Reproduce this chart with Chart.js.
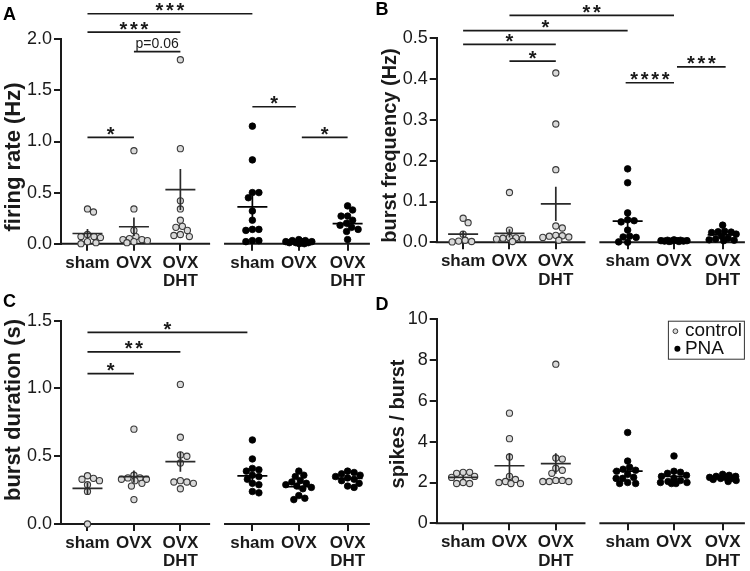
<!DOCTYPE html>
<html>
<head>
<meta charset="utf-8">
<script src="https://cdn.jsdelivr.net/npm/chart.js@4.4.1/dist/chart.umd.min.js"></script>
<style>
  body { margin: 0; background: #fff; }
  #wrap { position: relative; width: 750px; height: 571px; overflow: hidden; background: #fff; }
  canvas { position: absolute; }
</style>
</head>
<body>
<div id="wrap">
  <canvas id="cA" width="375" height="292" style="left:0;top:0"></canvas>
  <canvas id="cB" width="375" height="292" style="left:375px;top:0"></canvas>
  <canvas id="cC" width="375" height="286" style="left:0;top:285px"></canvas>
  <canvas id="cD" width="375" height="286" style="left:375px;top:285px"></canvas>
</div>
<script>
// groups: control sham / OVX / OVX+DHT, then PNA sham / OVX / OVX+DHT
const groupLabels = ['sham', 'OVX', ['OVX', 'DHT'], 'sham', 'OVX', ['OVX', 'DHT']];
const groupX = [1, 2, 3, 4.55, 5.55, 6.6];

// A - firing rate (Hz)
const rateValues = [
  [0.34, 0.31, 0.09, 0.07, 0.07, 0.06, 0.02, 0.01, 0.0],
  [0.91, 0.34, 0.13, 0.07, 0.05, 0.04, 0.04, 0.03, 0.02, 0.01],
  [1.80, 0.93, 0.42, 0.34, 0.23, 0.17, 0.16, 0.13, 0.09, 0.08, 0.07],
  [1.15, 0.82, 0.50, 0.50, 0.45, 0.32, 0.23, 0.14, 0.14, 0.13, 0.03, 0.03, 0.02],
  [0.04, 0.03, 0.03, 0.02, 0.02, 0.02, 0.01, 0.01, 0.01, 0.0, 0.0],
  [0.37, 0.33, 0.27, 0.27, 0.23, 0.2, 0.18, 0.16, 0.14, 0.12, 0.04]
];
const rateMean = [0.10, 0.166, 0.53, 0.36, 0.02, 0.196];
const rateSem = [0.045, 0.09, 0.2, 0.11, 0.005, 0.03];
const rateSig = [
  { a: 0, b: 3, y: 2.25, t: '***' },
  { a: 0, b: 2, y: 2.07, t: '***' },
  { a: 1, b: 2, y: 1.88, t: 'p=0.06' },
  { a: 0, b: 1, y: 1.04, t: '*' },
  { a: 3, b: 4, y: 1.34, t: '*', trimR: 3 },
  { a: 4, b: 5, y: 1.04, t: '*', trimL: 3 }
];

// B - burst frequency (Hz)
const freqValues = [
  [0.059, 0.048, 0.02, 0.005, 0.003, 0.002, 0.001],
  [0.122, 0.03, 0.012, 0.011, 0.01, 0.009, 0.008, 0.002],
  [0.415, 0.29, 0.178, 0.04, 0.035, 0.017, 0.016, 0.015, 0.013, 0.012, 0.005],
  [0.18, 0.146, 0.072, 0.055, 0.053, 0.05, 0.03, 0.015, 0.013, 0.012, 0.001, 0.0],
  [0.006, 0.005, 0.005, 0.004, 0.004, 0.004, 0.003, 0.003, 0.003, 0.002, 0.002],
  [0.042, 0.027, 0.026, 0.025, 0.024, 0.02, 0.015, 0.01, 0.008, 0.006, 0.005, 0.004]
];
const freqMean = [0.02, 0.022, 0.094, 0.052, 0.004, 0.018];
const freqSem = [0.008, 0.01, 0.042, 0.018, 0.001, 0.004];
const freqSig = [
  { a: 1, b: 4, y: 0.556, t: '**' },
  { a: 0, b: 3, y: 0.519, t: '*' },
  { a: 0, b: 2, y: 0.485, t: '*' },
  { a: 1, b: 2, y: 0.444, t: '*' },
  { a: 3, b: 4, y: 0.391, t: '****', trimL: -2 },
  { a: 4, b: 5, y: 0.43, t: '***', trimL: 3, trimR: -3 }
];

// C - burst duration (s)
const durValues = [
  [0.356, 0.337, 0.33, 0.32, 0.29, 0.24, 0.0],
  [0.70, 0.36, 0.34, 0.34, 0.33, 0.33, 0.32, 0.30, 0.28, 0.18],
  [1.03, 0.64, 0.51, 0.50, 0.45, 0.32, 0.31, 0.31, 0.30, 0.26],
  [0.62, 0.48, 0.41, 0.40, 0.39, 0.36, 0.35, 0.33, 0.30, 0.29, 0.24, 0.23],
  [0.39, 0.36, 0.35, 0.32, 0.31, 0.30, 0.29, 0.28, 0.27, 0.26, 0.21, 0.19, 0.18],
  [0.39, 0.38, 0.37, 0.36, 0.35, 0.34, 0.33, 0.32, 0.30, 0.28, 0.27]
];
const durMean = [0.263, 0.35, 0.46, 0.355, 0.275, 0.337];
const durSem = [0.043, 0.045, 0.074, 0.03, 0.02, 0.013];
const durSig = [
  { a: 0, b: 3, y: 1.414, t: '*', trimR: 5 },
  { a: 0, b: 2, y: 1.27, t: '**' },
  { a: 0, b: 1, y: 1.11, t: '*' }
];

// D - spikes / burst
const spikeValues = [
  [2.5, 2.5, 2.45, 2.3, 2.25, 2.0, 1.95, 1.95],
  [5.4, 4.15, 3.25, 2.3, 2.15, 2.05, 2.0, 1.95, 1.95],
  [7.8, 3.2, 3.15, 2.7, 2.6, 2.45, 2.1, 2.1, 2.05, 2.05, 2.05],
  [4.45, 3.05, 2.75, 2.65, 2.6, 2.55, 2.4, 2.25, 2.2, 2.2, 2.0, 1.95, 1.95],
  [3.3, 2.55, 2.5, 2.45, 2.35, 2.3, 2.2, 2.1, 2.05, 2.0, 2.0, 1.95, 1.95],
  [2.4, 2.35, 2.3, 2.3, 2.25, 2.25, 2.2, 2.2, 2.15, 2.1, 2.05]
];
const spikeMean = [2.25, 2.82, 2.93, 2.56, 2.3, 2.24];
const spikeSem = [0.08, 0.62, 0.5, 0.2, 0.1, 0.05];

const seriesNames = ['control', 'PNA'];

const FONT = "'Liberation Sans', Arial, sans-serif";
const INK = '#1a1a1a';
const CTRL_FILL = '#d9d9d9';
const CTRL_EDGE = '#3a3a3a';
const X_MIN = 0.43, X_MAX = 7.08;
const X_AXIS_H = 44;

// scatter layout: spread equal-ish values sideways, but keep the column narrow
function swarm(values, center, pxX, pxY, diam, maxOff) {
  const placed = [];
  const out = new Array(values.length);
  const order = values.map((v, i) => i).sort((a, b) => values[b] - values[a]);
  const cands = [];
  for (let k = 0; k <= maxOff * 4; k++) {
    const o = (k % 2 ? 1 : -1) * Math.ceil(k / 2) * 0.5;
    if (Math.abs(o) <= maxOff) cands.push(o);
  }
  order.forEach(i => {
    const py = values[i] * pxY;
    let off = null, bestO = 0, bestD = -1;
    for (const o of cands) {
      let md = Infinity;
      placed.forEach(p => { md = Math.min(md, Math.hypot(o - p.o, py - p.py)); });
      if (md >= diam) { off = o; break; }
      if (md > bestD + 0.01) { bestD = md; bestO = o; }
    }
    if (off === null) off = bestO;
    placed.push({ o: off, py: py });
    out[i] = { x: center + off / pxX, y: values[i] };
  });
  return out;
}

function drawStars(ctx, text, cx, lineY) {
  ctx.save();
  ctx.fillStyle = INK;
  if (/^\*+$/.test(text)) {
    ctx.font = 'bold 20px ' + FONT;
    ctx.textAlign = 'center';
    ctx.textBaseline = 'alphabetic';
    const m = ctx.measureText('*');
    const a = m.actualBoundingBoxAscent, d = m.actualBoundingBoxDescent;
    const base = lineY - 6.5 - (d - a) / 2;
    const step = 10.5;
    const n = text.length;
    for (let i = 0; i < n; i++) {
      ctx.fillText('*', cx + (i - (n - 1) / 2) * step, base);
    }
  } else {
    ctx.font = '14px ' + FONT;
    ctx.textAlign = 'center';
    ctx.textBaseline = 'alphabetic';
    ctx.fillText(text, cx, lineY - 3.5);
  }
  ctx.restore();
}

function makePanel(id, p) {
  const plotW = p.area.right - p.area.left;
  const plotH = p.area.bottom - p.area.top;
  const pxX = plotW / (X_MAX - X_MIN);
  const pxY = plotH / (p.yMax - p.yMin);

  const ctrlPts = [], pnaPts = [];
  p.values.forEach((vals, g) => {
    const pts = swarm(vals, groupX[g], pxX, pxY, 6.4, 13.5);
    (g < 3 ? ctrlPts : pnaPts).push(...pts);
  });

  const deco = {
    id: 'deco' + id,
    beforeDatasetsDraw(chart) {
      const { ctx, chartArea, scales } = chart;
      ctx.save();
      ctx.strokeStyle = INK;
      ctx.lineWidth = 2;
      [[X_MIN, 3.64], [3.94, X_MAX]].forEach(seg => {
        ctx.beginPath();
        ctx.moveTo(scales.x.getPixelForValue(seg[0]) - (seg[0] === X_MIN ? 1 : 0), chartArea.bottom);
        ctx.lineTo(scales.x.getPixelForValue(seg[1]), chartArea.bottom);
        ctx.stroke();
      });
      ctx.restore();
    },
    afterDatasetsDraw(chart) {
      const { ctx, scales } = chart;
      const xs = scales.x, ys = scales.y;
      ctx.save();
      ctx.lineWidth = 1.7;
      p.mean.forEach((m, g) => {
        const cx = xs.getPixelForValue(groupX[g]);
        const my = ys.getPixelForValue(m);
        ctx.strokeStyle = g < 3 ? '#2a2a2a' : '#000';
        ctx.beginPath();
        ctx.moveTo(cx - 15, my);
        ctx.lineTo(cx + 15, my);
        ctx.moveTo(cx, ys.getPixelForValue(m - p.sem[g]));
        ctx.lineTo(cx, ys.getPixelForValue(m + p.sem[g]));
        ctx.stroke();
      });
      ctx.restore();
    },
    afterDraw(chart) {
      const { ctx, scales, chartArea } = chart;
      const xs = scales.x, ys = scales.y;
      ctx.save();
      // significance bars
      ctx.strokeStyle = INK;
      ctx.lineWidth = 1.7;
      (p.sig || []).forEach(s => {
        const x1 = xs.getPixelForValue(groupX[s.a]) + (s.trimL || 0);
        const x2 = xs.getPixelForValue(groupX[s.b]) - (s.trimR || 0);
        const y = ys.getPixelForValue(s.y);
        ctx.beginPath();
        ctx.moveTo(x1, y);
        ctx.lineTo(x2, y);
        ctx.stroke();
        drawStars(ctx, s.t, (x1 + x2) / 2, y);
      });
      // panel letter
      ctx.fillStyle = '#000';
      ctx.font = 'bold 18px ' + FONT;
      ctx.textAlign = 'left';
      ctx.textBaseline = 'alphabetic';
      ctx.fillText(p.letter, p.letterPos[0], p.letterPos[1]);
      // y title
      ctx.save();
      ctx.translate(p.titlePos[0], p.titlePos[1]);
      ctx.rotate(-Math.PI / 2);
      ctx.font = 'bold ' + p.titleSize + 'px ' + FONT;
      ctx.fillStyle = INK;
      ctx.textAlign = 'center';
      ctx.textBaseline = 'middle';
      ctx.fillText(p.title, 0, 0);
      ctx.restore();
      // legend box
      if (p.legend) {
        const bx = chartArea.right - 77, by = chartArea.top + 1.4;
        ctx.strokeStyle = '#333';
        ctx.lineWidth = 1;
        ctx.strokeRect(bx + 0.5, by + 0.5, 76, 38);
        ctx.font = '19px ' + FONT;
        ctx.textBaseline = 'middle';
        ctx.textAlign = 'left';
        ctx.beginPath();
        ctx.arc(bx + 7.5, by + 10.5, 2.4, 0, Math.PI * 2);
        ctx.fillStyle = CTRL_FILL;
        ctx.fill();
        ctx.strokeStyle = CTRL_EDGE;
        ctx.stroke();
        ctx.beginPath();
        ctx.arc(bx + 9.5, by + 28, 3, 0, Math.PI * 2);
        ctx.fillStyle = '#000';
        ctx.fill();
        ctx.fillStyle = '#111';
        ctx.fillText(seriesNames[0], bx + 17, by + 10.5);
        ctx.fillText(seriesNames[1], bx + 17, by + 28.5);
      }
      ctx.restore();
    }
  };

  const el = document.getElementById(id);
  return new Chart(el.getContext('2d'), {
    type: 'scatter',
    data: {
      datasets: [
        { label: seriesNames[0], data: ctrlPts, backgroundColor: CTRL_FILL, borderColor: CTRL_EDGE,
          borderWidth: 1.1, pointRadius: 3.1, clip: false },
        { label: seriesNames[1], data: pnaPts, backgroundColor: '#000', borderColor: '#000',
          borderWidth: 0.8, pointRadius: 3.3, clip: false }
      ]
    },
    options: {
      responsive: false,
      animation: false,
      events: [],
      layout: {
        padding: {
          left: 0,
          top: p.area.top,
          right: el.width - p.area.right,
          bottom: el.height - p.area.bottom - X_AXIS_H
        }
      },
      plugins: { legend: { display: false }, tooltip: { enabled: false } },
      scales: {
        x: {
          type: 'linear',
          min: X_MIN,
          max: X_MAX,
          afterFit: s => { s.height = X_AXIS_H; },
          afterBuildTicks: s => { s.ticks = groupX.map(v => ({ value: v })); },
          ticks: {
            autoSkip: false, maxRotation: 0, minRotation: 0, padding: 3,
            color: INK,
            font: { family: FONT, size: 17, weight: 'bold', lineHeight: 1.08 },
            callback: (v, i) => groupLabels[i]
          },
          grid: { drawOnChartArea: false, drawTicks: true, tickLength: 7, color: INK, lineWidth: 2 },
          border: { display: false }
        },
        y: {
          min: p.yMin,
          max: p.yMax,
          afterFit: s => { s.width = p.area.left; },
          ticks: {
            stepSize: p.step, padding: 2, color: INK,
            font: { family: FONT, size: 18 },
            callback: v => v.toFixed(p.dec)
          },
          grid: { drawOnChartArea: false, drawTicks: true, tickLength: 7, color: INK, lineWidth: 2 },
          border: { display: true, color: INK, width: 2 }
        }
      }
    },
    plugins: [deco]
  });
}

makePanel('cA', {
  letter: 'A', letterPos: [3, 20],
  title: 'firing rate (Hz)', titleSize: 22, titlePos: [13.5, 157],
  area: { left: 61, right: 370, top: 39.3, bottom: 243.7 },
  yMin: 0, yMax: 2, step: 0.5, dec: 1,
  values: rateValues, mean: rateMean, sem: rateSem, sig: rateSig
});
makePanel('cB', {
  letter: 'B', letterPos: [0.5, 15],
  title: 'burst frequency (Hz)', titleSize: 20, titlePos: [15, 145.5],
  area: { left: 61.7, right: 370, top: 38.3, bottom: 242.3 },
  yMin: 0, yMax: 0.5, step: 0.1, dec: 1,
  values: freqValues, mean: freqMean, sem: freqSem, sig: freqSig
});
makePanel('cC', {
  letter: 'C', letterPos: [3, 21.7],
  title: 'burst duration (s)', titleSize: 22, titlePos: [14, 125],
  area: { left: 61, right: 370, top: 35.7, bottom: 239 },
  yMin: 0, yMax: 1.5, step: 0.5, dec: 1,
  values: durValues, mean: durMean, sem: durSem, sig: durSig
});
makePanel('cD', {
  letter: 'D', letterPos: [0.5, 25],
  title: 'spikes / burst', titleSize: 20, titlePos: [23, 139],
  area: { left: 61.7, right: 370, top: 34.3, bottom: 238.3 },
  yMin: 0, yMax: 10, step: 2, dec: 0,
  values: spikeValues, mean: spikeMean, sem: spikeSem, legend: true
});
</script>
</body>
</html>
